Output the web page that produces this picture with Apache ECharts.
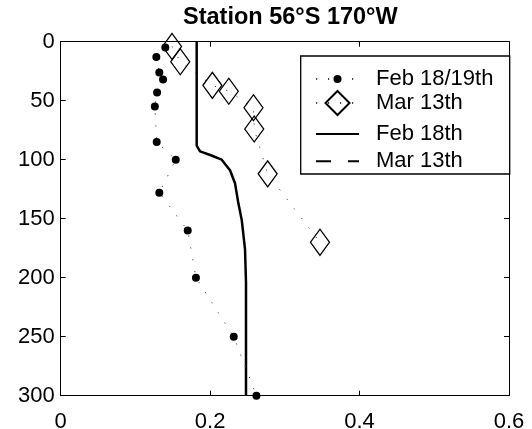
<!DOCTYPE html>
<html><head><meta charset="utf-8">
<script src="https://cdn.jsdelivr.net/npm/echarts@6/dist/echarts.min.js"></script>
<style>html,body{margin:0;padding:0;background:#fff}#c{width:532px;height:429px}</style>
</head><body><div id="c"></div>
<script>
// Feb 18/19th bottle samples (dots)
const febBottleX     = [0.140, 0.128, 0.132, 0.137, 0.129, 0.126, 0.1285, 0.154, 0.132, 0.170, 0.181, 0.2316, 0.262];
const febBottleDepth = [5, 13, 26, 32, 43, 55, 85, 100, 128, 160, 200, 250, 300];
// Mar 13th samples (diamonds)
const marBottleX     = [0.149, 0.160, 0.203, 0.225, 0.258, 0.259, 0.277, 0.347];
const marBottleDepth = [4, 17, 37, 42, 56, 74, 112, 170];
// Feb 18th profile (solid)
const febProfileX     = [0.182, 0.182, 0.1865, 0.200, 0.2155, 0.2266, 0.2333, 0.2378, 0.2423, 0.2467, 0.248, 0.248];
const febProfileDepth = [0, 88, 93, 96, 100, 109, 120, 137, 151, 176, 204, 300];
// Mar 13th profile (dashed) - not visible in the figure
const marProfileX     = [];
const marProfileDepth = [];

const xTickLabels = ['0', '0.2', '0.4', '0.6'];
const yTickLabels = ['0', '50', '100', '150', '200', '250', '300'];
const seriesNames = ['Feb 18/19th', 'Mar 13th', 'Feb 18th', 'Mar 13th '];
const titleText = 'Station 56°S 170°W';

const pairs = (xs, ys) => xs.map((x, i) => [x, ys[i]]);
const FONT = '"Liberation Sans", Arial, Helvetica, sans-serif';

const chart = echarts.init(document.getElementById('c'), null, {renderer: 'canvas'});

const axisCommon = {
  type: 'value',
  axisLine: {show: true, onZero: false, lineStyle: {color: '#000', width: 1}},
  axisTick: {show: true, inside: true, length: 5, lineStyle: {color: '#000', width: 1}},
  splitLine: {show: false}
};

function legendRow(name, top, h, hideSymbol) {
  const l = {
    data: [name], left: 315, top: top, orient: 'vertical',
    itemWidth: 43, itemHeight: h, padding: 0, selectedMode: false, z: 6,
    textStyle: {fontSize: 22, color: '#000', fontFamily: FONT, padding: [0, 0, 0, 12]}
  };
  if (hideSymbol) l.itemStyle = {opacity: 0};
  return l;
}

chart.setOption({
  animation: false,
  backgroundColor: '#fff',
  title: {
    text: titleText, left: 183, top: 6, padding: 0,
    textStyle: {fontSize: 23.5, fontWeight: 'bold', color: '#000', fontFamily: FONT}
  },
  grid: {left: 60.7, right: 23, top: 41.7, bottom: 33.3, containLabel: false, outerBoundsMode: 'none'},
  xAxis: [
    Object.assign({}, axisCommon, {
      position: 'bottom', min: 0, max: 0.6, interval: 0.2,
      axisLabel: {color: '#000', fontSize: 22, fontFamily: FONT, margin: 15,
        formatter: (v) => xTickLabels[Math.round(v / 0.2)]}
    }),
    Object.assign({}, axisCommon, {
      position: 'top', min: 0, max: 0.6, interval: 0.2, axisLabel: {show: false}
    })
  ],
  yAxis: [
    Object.assign({}, axisCommon, {
      position: 'left', min: 0, max: 300, interval: 50, inverse: true,
      axisLabel: {color: '#000', fontSize: 22, fontFamily: FONT, margin: 6,
        formatter: (v) => yTickLabels[Math.round(v / 50)]}
    }),
    Object.assign({}, axisCommon, {
      position: 'right', min: 0, max: 300, interval: 50, inverse: true, axisLabel: {show: false}
    })
  ],
  legend: [
    legendRow(seriesNames[0], 68, 10, false),
    legendRow(seriesNames[1], 90, 30, false),
    legendRow(seriesNames[2], 123, 10, true),
    legendRow(seriesNames[3], 150.3, 10, true)
  ],
  graphic: [{
    type: 'rect', z: 5, silent: true,
    shape: {x: 300.7, y: 56, width: 209, height: 118},
    style: {fill: '#fff', stroke: '#000', lineWidth: 1.3}
  }],
  series: [
    {
      name: seriesNames[0], type: 'line', data: pairs(febBottleX, febBottleDepth),
      symbol: 'circle', symbolSize: 8, z: 3,
      itemStyle: {color: '#000'},
      lineStyle: {color: '#444', width: 1, type: [1.2, 10.8]}
    },
    {
      name: seriesNames[1], type: 'line', data: pairs(marBottleX, marBottleDepth),
      symbol: 'diamond', symbolSize: [19, 26], z: 3,
      itemStyle: {color: 'transparent', borderColor: '#000', borderWidth: 1.3},
      lineStyle: {color: '#444', width: 1, type: [1.2, 10.8]}
    },
    {
      name: seriesNames[2], type: 'line', data: pairs(febProfileX, febProfileDepth),
      symbol: 'none', z: 2,
      itemStyle: {color: '#000'},
      lineStyle: {color: '#000', width: 2.5, type: 'solid'}
    },
    {
      name: seriesNames[3], type: 'line', data: pairs(marProfileX, marProfileDepth),
      symbol: 'none', z: 2,
      itemStyle: {color: '#000'},
      lineStyle: {color: '#000', width: 2.5, type: [15, 17]}
    }
  ]
});
</script>
</body></html>
